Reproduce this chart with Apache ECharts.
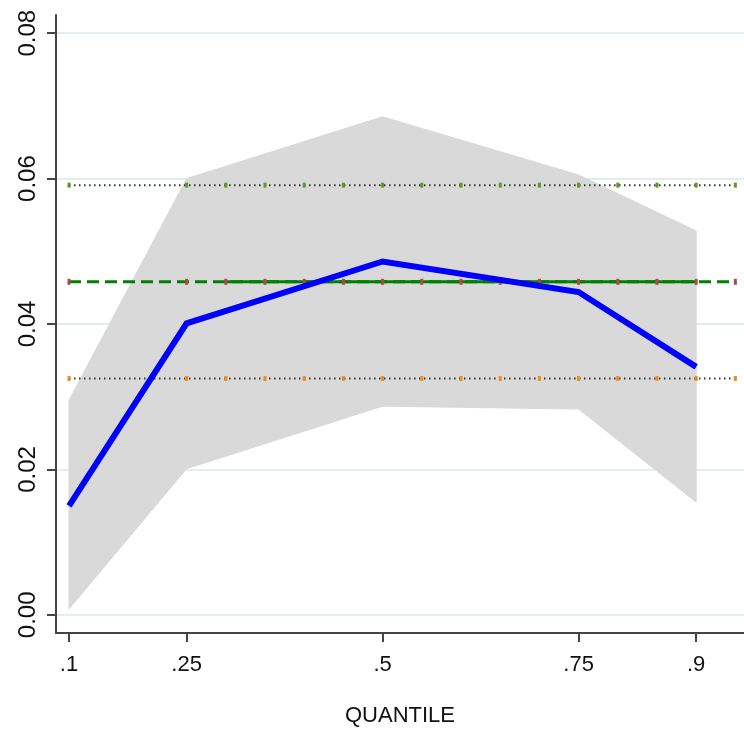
<!DOCTYPE html>
<html><head><meta charset="utf-8">
<script src="https://cdn.jsdelivr.net/npm/echarts@6/dist/echarts.min.js"></script>
<style>html,body{margin:0;padding:0;background:#fff}#c{width:744px;height:736px}</style>
</head><body><div id="c"></div>
<script>
// Quantile regression estimates
const quantiles = [0.1, 0.25, 0.5, 0.75, 0.9];
const coef      = [0.0150, 0.0401, 0.0486, 0.0444, 0.0341];
const ciLower   = [0.0008, 0.0201, 0.0287, 0.0283, 0.0155];
const ciUpper   = [0.0295, 0.0600, 0.0685, 0.0605, 0.0528];
// OLS estimate and its confidence bounds (horizontal lines)
const olsX      = [0.1, 0.25, 0.3, 0.35, 0.4, 0.45, 0.5, 0.55, 0.6, 0.65, 0.7, 0.75, 0.8, 0.85, 0.9, 0.95];
const olsCoef   = 0.0458;
const olsLower  = 0.0325;
const olsUpper  = 0.0591;
// Axis ticks
const xTicks = [0.1, 0.25, 0.5, 0.75, 0.9];
const yTicks = [0, 0.02, 0.04, 0.06, 0.08];

const olsSolidX = olsX.filter(x => x >= 0.3 && x <= 0.9);
// band segments between consecutive quantiles
const bandData = quantiles.slice(0, -1).map((q, i) =>
  [q, ciLower[i], ciUpper[i], quantiles[i + 1], ciLower[i + 1], ciUpper[i + 1]]);
const coefData  = quantiles.map((q, i) => [q, coef[i]]);
const hline = (xs, y) => xs.map(x => [x, y]);

const chart = echarts.init(document.getElementById('c'), null, {renderer: 'canvas'});
chart.setOption({
  animation: false,
  backgroundColor: '#ffffff',
  grid: {left: 56, right: 0, top: 15, bottom: 103, containLabel: false, outerBoundsMode: 'none'},
  xAxis: {
    type: 'value', min: 0.0834, max: 0.961,
    name: 'QUANTILE', nameLocation: 'middle', nameGap: 72,
    nameTextStyle: {fontFamily: 'Liberation Sans', fontSize: 22, color: '#111'},
    axisLine: {onZero: false, lineStyle: {color: '#444', width: 2}},
    axisTick: {customValues: xTicks, length: 9, lineStyle: {color: '#444', width: 2}},
    axisLabel: {customValues: xTicks, margin: 21, fontFamily: 'Liberation Sans', fontSize: 22, color: '#111',
      formatter: v => String(v).replace(/^0/, '')},
    splitLine: {show: false}
  },
  yAxis: {
    type: 'value', min: -0.0025, max: 0.0825,
    axisLine: {show: true, onZero: false, lineStyle: {color: '#444', width: 2}},
    axisTick: {show: true, customValues: yTicks, length: 9, lineStyle: {color: '#444', width: 2}},
    axisLabel: {customValues: yTicks, rotate: 90, margin: 16, fontFamily: 'Liberation Sans', fontSize: 24, color: '#111',
      formatter: v => v.toFixed(2)},
    splitLine: {show: true, lineStyle: {color: '#e4eef0', width: 2}}
  },
  series: [
    {type: 'custom', name: 'band', data: bandData, z: 2, silent: true,
      encode: {x: [0, 3], y: [1, 2, 4, 5]},
      renderItem: (params, api) => {
        const p1 = api.coord([api.value(0), api.value(1)]);
        const p2 = api.coord([api.value(3), api.value(4)]);
        const p3 = api.coord([api.value(3), api.value(5)]);
        const p4 = api.coord([api.value(0), api.value(2)]);
        return {type: 'polygon', shape: {points: [p1, p2, p3, p4]},
          style: {fill: '#d9d9d9', stroke: '#d9d9d9', lineWidth: 1}};
      }},
    {type: 'line', name: 'olsUpper', data: hline(olsX, olsUpper), symbol: 'rect', symbolSize: [3, 5],
      itemStyle: {color: '#5a9a2a'}, lineStyle: {color: '#333', width: 2, type: [1.5, 3.5]}, z: 3},
    {type: 'line', name: 'olsLower', data: hline(olsX, olsLower), symbol: 'rect', symbolSize: [3, 5],
      itemStyle: {color: '#f08a24'}, lineStyle: {color: '#333', width: 2, type: [1.5, 3.5]}, z: 3},
    {type: 'line', name: 'olsDashed', data: hline(olsX, olsCoef), symbol: 'rect', symbolSize: [3, 6],
      itemStyle: {color: '#b04848'}, lineStyle: {color: '#008000', width: 3, type: [12, 6]}, z: 4},
    {type: 'line', name: 'olsSolid', data: hline(olsSolidX, olsCoef), symbol: 'none',
      lineStyle: {color: '#008000', width: 3}, z: 4},
    {type: 'line', name: 'coef', data: coefData, symbol: 'none',
      lineStyle: {color: '#0000ff', width: 6, join: 'miter'}, z: 6}
  ]
});
</script>
</body></html>
